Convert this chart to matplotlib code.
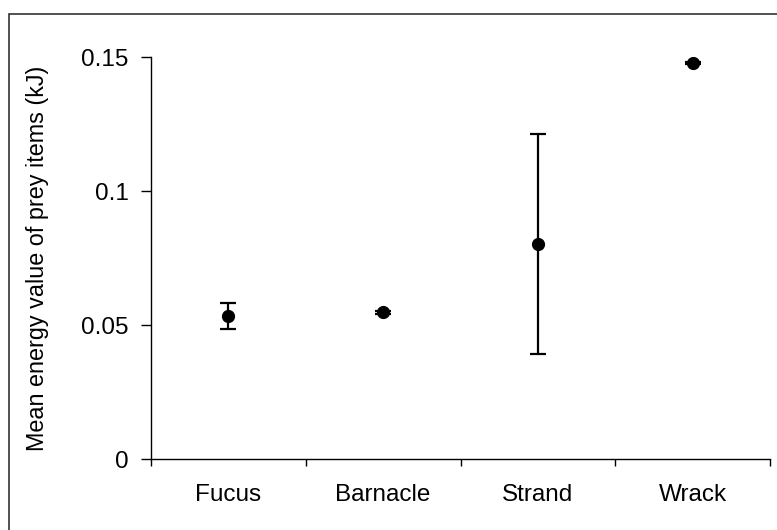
import matplotlib
matplotlib.use("Agg")
import matplotlib.pyplot as plt
from matplotlib.patches import Rectangle

habitats = ["Fucus", "Barnacle", "Strand", "Wrack"]
mean_energy = [0.0533, 0.0547, 0.0802, 0.1478]
err_energy = [0.0048, 0.0005, 0.0410, 0.0005]
y_ticks = [0, 0.05, 0.1, 0.15]
y_tick_labels = ["0", "0.05", "0.1", "0.15"]

plt.rcParams["font.family"] = ["Liberation Sans", "DejaVu Sans"]

fig = plt.figure(figsize=(7.77, 5.30), dpi=100)
ax = fig.add_axes([151 / 777, 1 - 459 / 530, 619 / 777, 402 / 530])

x = [i + 0.5 for i in range(len(habitats))]
ax.errorbar(x, mean_energy, yerr=err_energy, fmt="o", color="black",
            markersize=8.5, elinewidth=1.6, capsize=6, capthick=1.6)

ax.set_xlim(0, 4)
ax.set_ylim(0, 0.15)
ax.set_xticks([0, 1, 2, 3, 4])
ax.set_xticklabels([])
ax.set_xticks(x, minor=True)
ax.set_xticklabels(habitats, minor=True, fontsize=17.5)
ax.tick_params(axis="x", which="minor", length=0, pad=18)
ax.tick_params(axis="x", which="major", length=5, direction="out", width=1)
ax.set_yticks(y_ticks)
ax.set_yticklabels(y_tick_labels, fontsize=17.5)
ax.tick_params(axis="y", length=7, direction="out", width=1, pad=9)

ax.spines["top"].set_visible(False)
ax.spines["right"].set_visible(False)
ax.spines["left"].set_linewidth(1)
ax.spines["bottom"].set_linewidth(1)

ax.set_ylabel("Mean energy value of prey items (kJ)", fontsize=16.8)
ax.yaxis.set_label_coords(-0.164, 0.5)

# border around the whole figure (runs off the right and bottom edges)
fig.patches.append(Rectangle((9 / 777, -0.05), 1.0, 1 - 14 / 530 + 0.05,
                             transform=fig.transFigure, fill=False,
                             edgecolor="#333333", linewidth=1.2))

fig.savefig("out.png", dpi=100)
